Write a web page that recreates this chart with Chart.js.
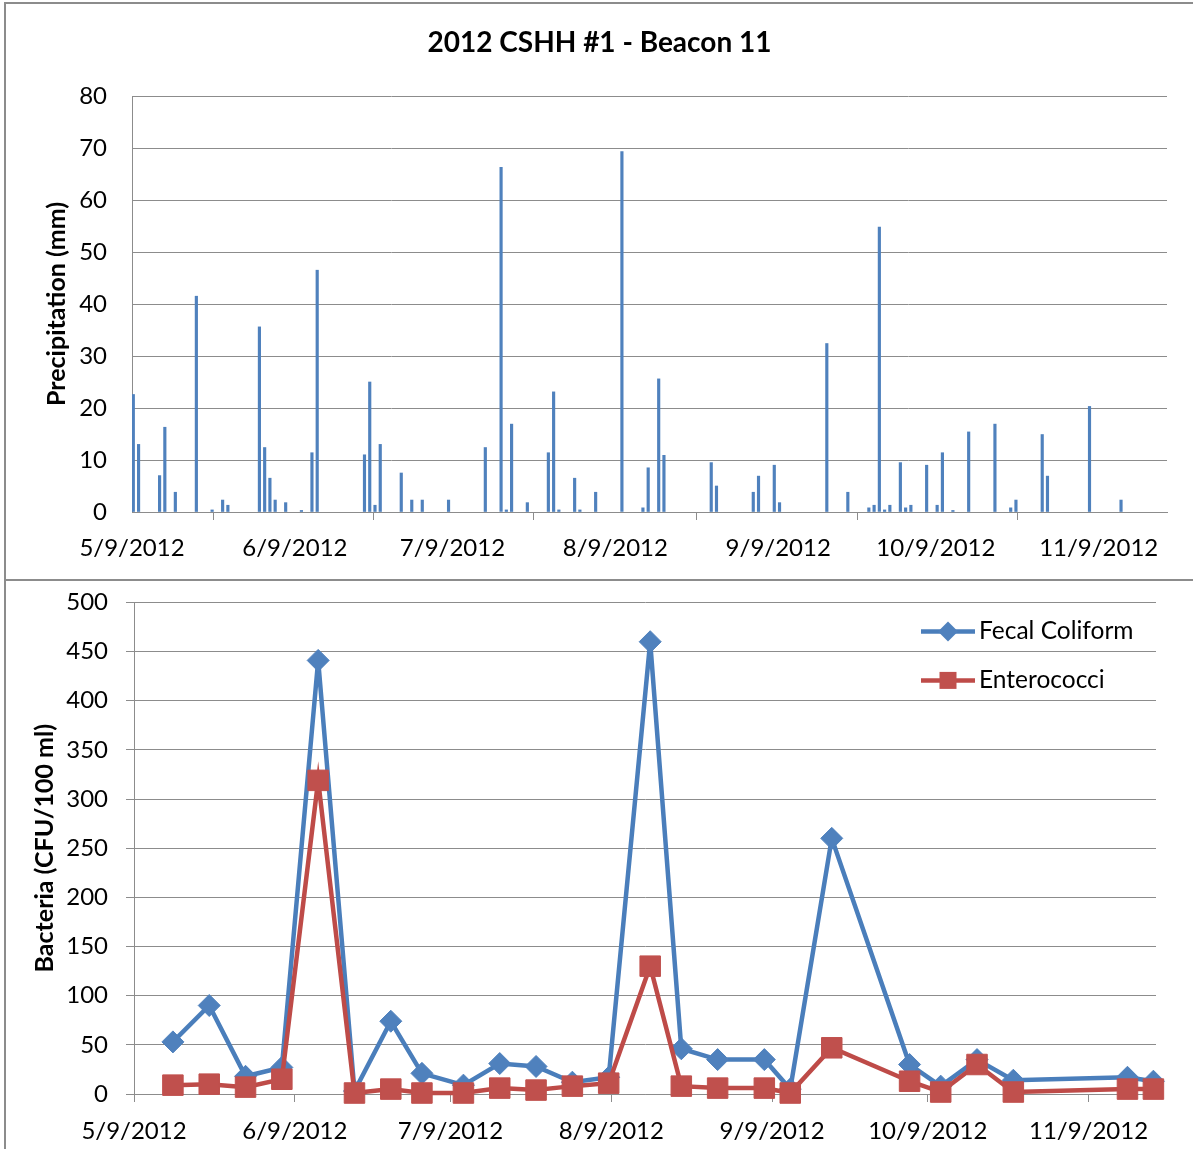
<!DOCTYPE html>
<html>
<head>
<meta charset="utf-8">
<script src="https://cdn.jsdelivr.net/npm/chart.js@4.4.1/dist/chart.umd.min.js"></script>
<style>
html, body { margin: 0; padding: 0; background: #fff; }
#wrap { position: relative; width: 1193px; height: 1149px; overflow: hidden; background: #fff; }
.line { position: absolute; background: #8c8c8c; z-index: 2; }
#topBox { position: absolute; left: 0; top: 0; width: 1193px; height: 579px; }
#botBox { position: absolute; left: 0; top: 570px; width: 1193px; height: 579px; }
</style>
</head>
<body>
<div id="wrap">
  <div id="topBox"><canvas id="rain"></canvas></div>
  <div id="botBox"><canvas id="bact"></canvas></div>
  <div class="line" style="left:4px;top:2px;width:1189px;height:2px"></div>
  <div class="line" style="left:4px;top:2px;width:2px;height:1147px"></div>
  <div class="line" style="left:4px;top:579px;width:1189px;height:2px"></div>
</div>
<script>
// axis range and month ticks
const axisStart = '2012-05-09';
const axisEnd = '2012-11-22';
const tickDates = ['2012-05-09', '2012-06-09', '2012-07-09', '2012-08-09', '2012-09-09', '2012-10-09', '2012-11-09'];
const tickLabels = ['5/9/2012', '6/9/2012', '7/9/2012', '8/9/2012', '9/9/2012', '10/9/2012', '11/9/2012'];

// daily precipitation (mm)
const rainDates = [
  '2012-05-09', '2012-05-10', '2012-05-14', '2012-05-15', '2012-05-17', '2012-05-21', '2012-05-24', '2012-05-26', '2012-05-27',
  '2012-06-02', '2012-06-03', '2012-06-04', '2012-06-05', '2012-06-07', '2012-06-10', '2012-06-12', '2012-06-13',
  '2012-06-22', '2012-06-23', '2012-06-24', '2012-06-25', '2012-06-29', '2012-07-01', '2012-07-03', '2012-07-08',
  '2012-07-15', '2012-07-18', '2012-07-19', '2012-07-20', '2012-07-23', '2012-07-27', '2012-07-28', '2012-07-29',
  '2012-08-01', '2012-08-02', '2012-08-05', '2012-08-10', '2012-08-14', '2012-08-15', '2012-08-17', '2012-08-18',
  '2012-08-27', '2012-08-28', '2012-09-04', '2012-09-05', '2012-09-08', '2012-09-09', '2012-09-18', '2012-09-22',
  '2012-09-26', '2012-09-27', '2012-09-28', '2012-09-29', '2012-09-30', '2012-10-02', '2012-10-03', '2012-10-04',
  '2012-10-07', '2012-10-09', '2012-10-10', '2012-10-12', '2012-10-15', '2012-10-20', '2012-10-23', '2012-10-24',
  '2012-10-29', '2012-10-30', '2012-11-07', '2012-11-13'
];
const rainMm = [
  22.6, 13, 7, 16.3, 3.8, 41.5, 0.4, 2.3, 1.3,
  35.6, 12.4, 6.5, 2.3, 1.8, 0.3, 11.4, 46.5,
  11, 25, 1.3, 13, 7.5, 2.3, 2.3, 2.3,
  12.4, 66.3, 0.4, 16.9, 1.8, 11.4, 23.1, 0.4,
  6.5, 0.4, 3.8, 69.3, 0.8, 8.5, 25.6, 10.9,
  9.5, 5, 3.8, 6.9, 9, 1.8, 32.4, 3.8,
  0.8, 1.3, 54.8, 0.4, 1.3, 9.5, 0.8, 1.3,
  9, 1.3, 11.4, 0.3, 15.4, 16.9, 0.8, 2.3,
  14.9, 6.9, 20.3, 2.3
];

// bacteria samples (CFU/100 ml)
const sampleDates = [
  '2012-05-16', '2012-05-23', '2012-05-30', '2012-06-06', '2012-06-13', '2012-06-20', '2012-06-27', '2012-07-03',
  '2012-07-11', '2012-07-18', '2012-07-25', '2012-08-01', '2012-08-08', '2012-08-16', '2012-08-22', '2012-08-29',
  '2012-09-07', '2012-09-12', '2012-09-20', '2012-10-05', '2012-10-11', '2012-10-18', '2012-10-25', '2012-11-16',
  '2012-11-21'
];
const fecalColiform = [53, 90, 18, 27, 441, 3, 74, 21, 9, 31, 28, 12, 17, 460, 46, 35, 35, 5, 260, 30, 8, 35, 14, 17, 13];
const enterococci = [9, 10, 7, 15, 319, 1, 5, 1, 1, 6, 4, 8, 11, 130, 8, 6, 6, 1, 47, 13, 2, 30, 2, 5, 5];

const DAY = 86400000;
const dayIndex = s => (Date.parse(s) - Date.parse(axisStart)) / DAY;
const tickDays = tickDates.map(dayIndex);
// marks sit a bit inside their day slot, like the Excel date axis
const barShift = 0.25;
const pointShift = 0.5;

const gridGray = '#8c8c8c';
const blue = '#4F81BD';
const red = '#C0504D';
const fontStack = 'Lato, "Open Sans", sans-serif';

Chart.defaults.font.family = fontStack;
Chart.defaults.color = '#000';
Chart.defaults.animation = false;
Chart.defaults.plugins.legend.display = false;
Chart.defaults.plugins.tooltip.enabled = false;

function dateAxis(pad, height) {
  return {
    type: 'linear',
    min: 0,
    max: dayIndex(axisEnd),
    offset: false,
    afterBuildTicks: s => { s.ticks = tickDays.map(v => ({ value: v })); },
    afterFit: s => { s.height = height; },
    ticks: {
      autoSkip: false,
      maxRotation: 0,
      padding: pad,
      font: { size: 24 },
      callback: v => tickLabels[tickDays.indexOf(v)]
    },
    grid: { drawOnChartArea: false, drawTicks: true, tickLength: 8, color: gridGray },
    border: { display: true, color: gridGray, width: 1 }
  };
}

// top: precipitation
new Chart(document.getElementById('rain'), {
  type: 'bar',
  data: {
    datasets: [{
      label: 'Precipitation',
      data: rainDates.map((d, i) => ({ x: dayIndex(d) + barShift, y: rainMm[i] })),
      backgroundColor: blue,
      barThickness: 2.5
    }]
  },
  options: {
    responsive: true,
    maintainAspectRatio: false,
    layout: { padding: { left: 32, right: 26, top: 0, bottom: 0 } },
    plugins: {
      title: {
        display: true,
        text: '2012 CSHH #1 - Beacon 11',
        color: '#000',
        font: { size: 28, weight: 'bold' },
        padding: { top: 26.2, bottom: 36.2 }
      }
    },
    scales: {
      x: dateAxis(14, 67),
      y: {
        min: 0,
        max: 80,
        afterFit: s => { s.width = 100; },
        ticks: { stepSize: 10, padding: 25, font: { size: 24 } },
        grid: { color: gridGray, drawTicks: false },
        border: { display: true, color: gridGray },
        title: {
          display: true,
          text: 'Precipitation (mm)',
          color: '#000',
          font: { size: 25, weight: 'bold' },
          padding: { top: 10, bottom: 0 }
        }
      }
    }
  }
});

// legend drawn inside the plot, line + marker like the original
const innerLegend = {
  id: 'innerLegend',
  afterDraw(chart) {
    const { ctx, chartArea } = chart;
    const x0 = chartArea.right - 235;
    const x1 = chartArea.right - 181;
    const xm = (x0 + x1) / 2;
    ctx.save();
    chart.data.datasets.forEach((ds, i) => {
      const y = chartArea.top + 29 + i * 49;
      ctx.strokeStyle = ds.borderColor;
      ctx.lineWidth = 4.5;
      ctx.beginPath();
      ctx.moveTo(x0, y);
      ctx.lineTo(x1, y);
      ctx.stroke();
      ctx.fillStyle = ds.pointBackgroundColor;
      ctx.beginPath();
      if (ds.pointStyle === 'rectRot') {
        ctx.moveTo(xm, y - 10); ctx.lineTo(xm + 10, y); ctx.lineTo(xm, y + 10); ctx.lineTo(xm - 10, y);
      } else {
        ctx.rect(xm - 8.5, y - 8.5, 17, 17);
      }
      ctx.closePath();
      ctx.fill();
      ctx.fillStyle = '#000';
      ctx.font = '24.5px ' + fontStack;
      ctx.textBaseline = 'middle';
      ctx.textAlign = 'left';
      ctx.fillText(ds.label, chartArea.right - 177, y);
    });
    ctx.restore();
  }
};

// bottom: bacteria
new Chart(document.getElementById('bact'), {
  type: 'line',
  data: {
    datasets: [{
      label: 'Fecal Coliform',
      data: sampleDates.map((d, i) => ({ x: dayIndex(d) + pointShift, y: fecalColiform[i] })),
      borderColor: '#4A7EBB',
      backgroundColor: blue,
      pointBackgroundColor: blue,
      pointBorderColor: blue,
      pointStyle: 'rectRot',
      pointRadius: 11,
      pointBorderWidth: 1,
      borderWidth: 4.5,
      tension: 0,
      order: 1
    }, {
      label: 'Enterococci',
      data: sampleDates.map((d, i) => ({ x: dayIndex(d) + pointShift, y: enterococci[i] })),
      borderColor: '#BE4B48',
      backgroundColor: red,
      pointBackgroundColor: red,
      pointBorderColor: red,
      pointStyle: 'rect',
      pointRadius: 14.5,
      pointBorderWidth: 1,
      borderWidth: 4.5,
      tension: 0,
      order: 0
    }]
  },
  options: {
    responsive: true,
    maintainAspectRatio: false,
    clip: false,
    layout: { padding: { left: 0, right: 37, top: 7, bottom: 0 } },
    scales: {
      x: dateAxis(15, 55),
      y: {
        min: 0,
        max: 500,
        afterFit: s => { s.width = 134; },
        ticks: { stepSize: 50, padding: 18, font: { size: 24 } },
        grid: { color: gridGray, drawTicks: true, tickLength: 8 },
        border: { display: true, color: gridGray },
        title: {
          display: true,
          text: 'Bacteria (CFU/100 ml)',
          color: '#000',
          font: { size: 25, weight: 'bold' },
          padding: { top: 30, bottom: 0 }
        }
      }
    }
  },
  plugins: [innerLegend]
});
</script>
</body>
</html>
